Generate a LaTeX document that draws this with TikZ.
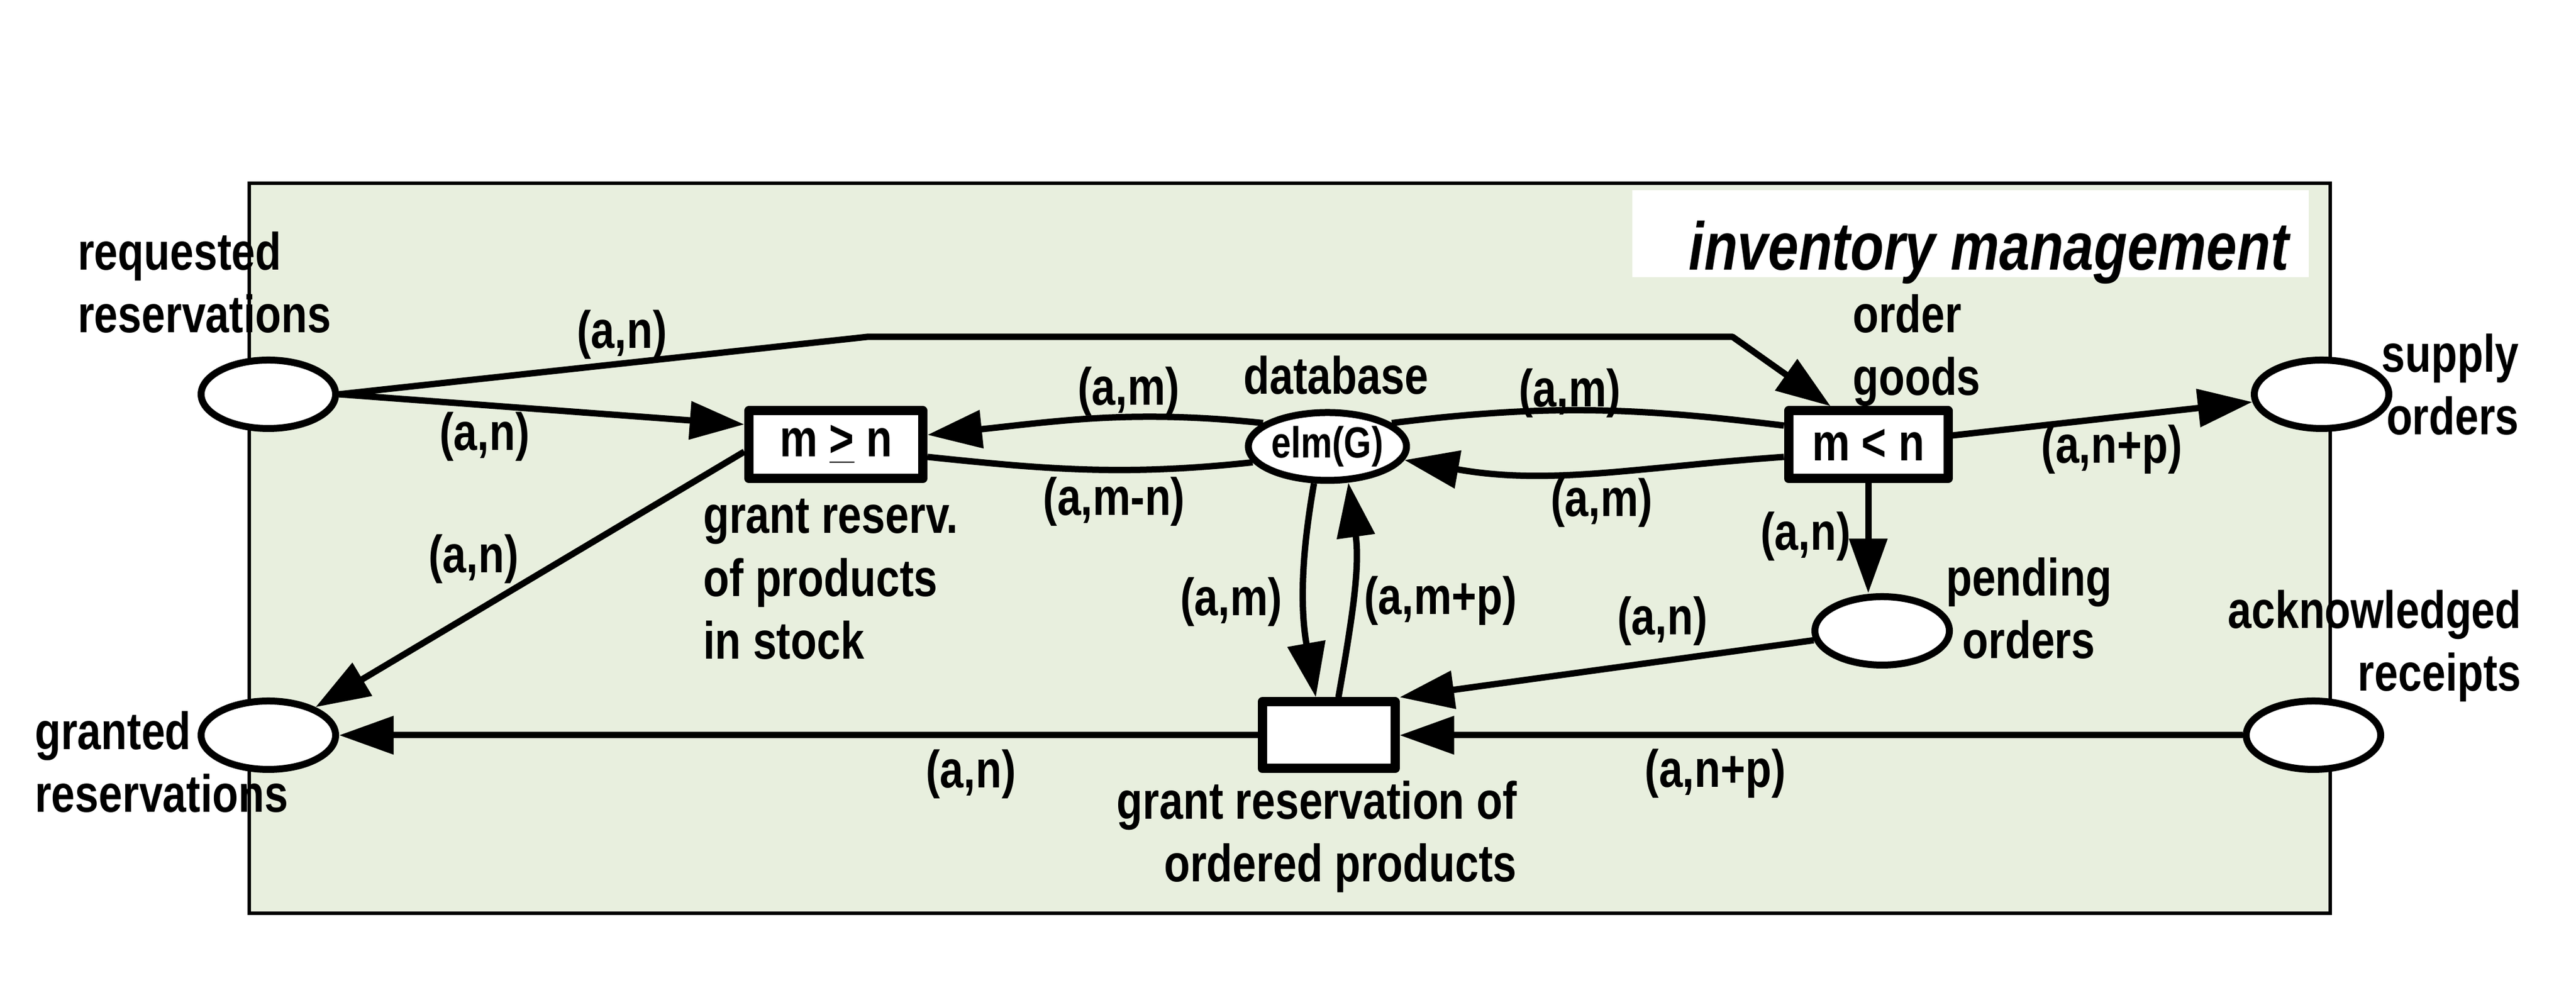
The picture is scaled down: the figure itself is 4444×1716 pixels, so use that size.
\documentclass[tikz,border=0pt]{standalone}
\usepackage{fontspec}
\setmainfont{Liberation Sans}[FakeStretch=0.81]
\usepackage{xcolor}
\usetikzlibrary{positioning, arrows.meta, shapes.geometric}

\begin{document}
\begin{tikzpicture}[
        x=0.05mm, y=0.05mm,
        >={Triangle[length=4.7mm, width=3.2mm]},
        font=\fontsize{12.9}{15.5}\selectfont\bfseries
    ]
        % Define custom colors
        \definecolor{invgreen}{RGB}{232,239,222}

        % Define node styles
        \tikzstyle{place}=[draw, ellipse, line width=0.6mm, fill=white, inner sep=0pt, minimum width=11.6mm, minimum height=5.9mm]
        \tikzstyle{trans}=[draw, line width=0.8mm, line join=round, fill=white, inner sep=0pt, minimum height=5.85mm]
        \tikzstyle{arc}=[->, line width=0.55mm]
        \tikzstyle{lbl}=[inner sep=0pt]

        \useasboundingbox (0,0) rectangle (4444,1716);

        % --- Frame and title ---
        \draw[line width=0.28mm, fill=invgreen] (430,141) rectangle (4020,1400);
        \fill[white] (2816,1238) rectangle (3983,1388);
        \node[anchor=base east, inner sep=0pt, font=\fontsize{16.6}{20}\selectfont\bfseries\itshape] (title) at (3950,1250) {inventory management};

        % --- Places ---
        \node[place] (req) at (463,1036) {};
        \node[place] (gr) at (463,448) {};
        \node[place, minimum width=13.45mm, minimum height=5.85mm] (db) at (2290,946) {\fontsize{10.7}{13}\selectfont elm(G)};
        \node[place] (sup) at (4005,1036) {};
        \node[place] (pend) at (3247,628) {};
        \node[place] (ack) at (3991,448) {};

        % --- Transitions ---
        \node[trans, minimum width=15mm] (mge) at (1442,949) {m \underline{>} n};
        \node[trans, minimum width=13.75mm] (mlt) at (3223,949) {m < n};
        \node[trans, minimum width=11.45mm, minimum height=5.75mm] (grb) at (2292,448) {};

        % --- Names (base = last line) ---
        \node[anchor=base west, align=left, inner sep=0pt] (reqtxt) at (133,1142) {requested\\reservations};
        \node[anchor=base west, align=left, inner sep=0pt] (grtxt) at (59,315) {granted\\reservations};
        \node[anchor=base west, align=left, inner sep=0pt] (mgetxt) at (1212,579) {grant reserv.\\of products\\in stock};
        \node[anchor=base, inner sep=0pt] (dbtxt) at (2305,1036) {database};
        \node[anchor=base west, align=left, inner sep=0pt] (mlttxt) at (3195,1034) {order\\goods};
        \node[anchor=base east, align=right, inner sep=0pt] (suptxt) at (4347,966) {supply\\orders};
        \node[anchor=base, align=center, inner sep=0pt] (pendtxt) at (3500,580) {pending\\orders};
        \node[anchor=base east, align=right, inner sep=0pt] (acktxt) at (4351,524) {acknowledged\\receipts};
        \node[anchor=base east, align=right, inner sep=0pt] (grbtxt) at (2618,195) {grant reservation of\\ordered products};

        % --- Arcs ---
        \coordinate (bendA) at (1496,1135);
        \coordinate (bendB) at (2989,1135);
        \draw[arc] (req.east) -- ([yshift=1.75mm]mge.west);
        \draw[arc, line join=round] (req.east) -- (bendA) -- (bendB) -- ([xshift=-3.25mm]mlt.north);
        \draw[arc] ([yshift=-0.6mm]mge.west) -- (gr);
        \draw[arc] (db.160) to[out=174, in=6] ([yshift=0.85mm]mge.east);
        \draw[line width=0.55mm] ([yshift=-1.05mm]mge.east) to[out=-6, in=186] (db.192);
        \draw[line width=0.55mm] (db.20) to[out=7, in=173] ([yshift=1.65mm]mlt.west);
        \draw[arc] ([yshift=-1.05mm]mlt.west) to[out=184, in=-10] (db.-10);
        \draw[arc] (db.250) to[out=260, in=100] ([xshift=-1.1mm]grb.north);
        \draw[arc] ([xshift=0.85mm]grb.north) to[out=80, in=278] (db.300);
        \draw[arc] (pend) -- (grb.north east);
        \draw[arc] (ack) -- (grb);
        \draw[arc] (grb) -- (gr);
        \draw[arc] ([yshift=0.8mm]mlt.east) -- (sup);
        \draw[arc] (mlt.south) -- (mlt.south |- pend.north);

        % --- Arc labels ---
        \node[lbl] (l1) at (1073,1139) {(a,n)};
        \node[lbl] (l2) at (836,963) {(a,n)};
        \node[lbl] (l3) at (817,752) {(a,n)};
        \node[lbl] (l4) at (1947,1041) {(a,m)};
        \node[lbl] (l5) at (1922,851) {(a,m-n)};
        \node[lbl] (l6) at (2124,678) {(a,m)};
        \node[lbl] (l7) at (2485,680) {(a,m+p)};
        \node[lbl] (l8) at (2708,1038) {(a,m)};
        \node[lbl] (l9) at (2763,849) {(a,m)};
        \node[lbl] (l10) at (3115,791) {(a,n)};
        \node[lbl] (l11) at (2868,645) {(a,n)};
        \node[lbl] (l12) at (2959,382) {(a,n+p)};
        \node[lbl] (l13) at (1675,381) {(a,n)};
        \node[lbl] (l14) at (3643,941) {(a,n+p)};

    \end{tikzpicture}
\end{document}
